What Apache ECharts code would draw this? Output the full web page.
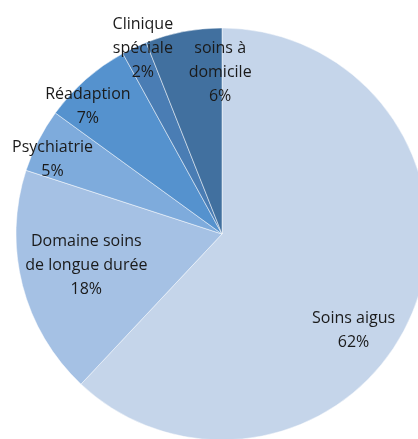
<!DOCTYPE html>
<html>
<head>
<meta charset="utf-8">
<script src="https://cdn.jsdelivr.net/npm/echarts@6/dist/echarts.min.js"></script>
<style>
  html, body { margin: 0; padding: 0; background: #fff; }
  #chart { width: 418px; height: 439px; }
</style>
</head>
<body>
<div id="chart"></div>
<script>
// secteurs, dans le sens horaire depuis midi
const categories = ['Soins aigus', 'Domaine soins\nde longue durée', 'Psychiatrie', 'Réadaption', 'Clinique\nspéciale', 'soins à\ndomicile']
const values = [62, 18, 5, 7, 2, 6]
const colors = ['#c5d5ea', '#a5c1e4', '#7eabdc', '#5592ce', '#4a7db4', '#41709f']
// décalage des étiquettes par rapport à la position "inside"
const labelShift = [[33, 57], [-33, 5], [-75, -26], [-64, -48], [-34, -90], [18, -57]]

const chart = echarts.init(document.getElementById('chart'))

const option = {
  animation: false,
  series: [
    {
      type: 'pie',
      center: [222, 234],
      radius: 206,
      startAngle: 90,
      clockwise: true,
      data: categories.map((name, i) => ({
        name: name,
        value: values[i],
        itemStyle: { color: colors[i] }
      })),
      itemStyle: {
        borderColor: 'rgba(255,255,255,0.6)',
        borderWidth: 0.8
      },
      label: {
        show: true,
        position: 'inside',
        formatter: '{b}\n{c}%',
        fontFamily: 'Open Sans',
        fontSize: 16,
        lineHeight: 24,
        color: '#1a1a1a',
        align: 'center'
      },
      labelLayout: function (params) {
        const s = labelShift[params.dataIndex]
        return { dx: s[0], dy: s[1] }
      },
      emphasis: { disabled: true }
    }
  ]
}

chart.setOption(option)
</script>
</body>
</html>
